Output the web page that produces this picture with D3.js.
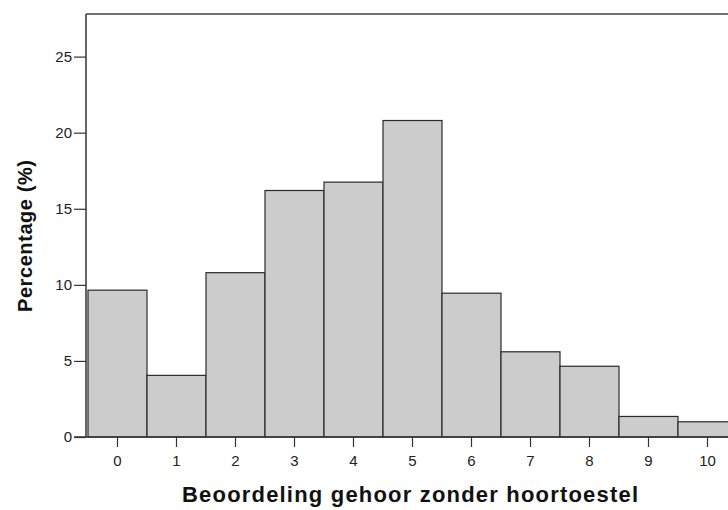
<!DOCTYPE html>
<html>
<head>
<meta charset="utf-8">
<script src="https://cdn.jsdelivr.net/npm/d3@7"></script>
<style>
  body { margin: 0; background: #fff; }
  svg { display: block; }
  .tick text { font-family: Arial, "Liberation Sans", sans-serif; font-size: 15px; fill: #222; }
</style>
</head>
<body>
<div id="chart"></div>
<script>
// Beoordeling (score 0-10) en percentage
var scores = ["0", "1", "2", "3", "4", "5", "6", "7", "8", "9", "10"];
var percentages = [9.65, 4.05, 10.8, 16.2, 16.75, 20.8, 9.45, 5.6, 4.65, 1.35, 1.0];
var yTicks = [0, 5, 10, 15, 20, 25];

var width = 728;
var height = 510;
var plot = {left: 86, top: 14, bottom: 437, barStart: 88, barWidth: 59};

var svg = d3.select("#chart")
    .append("svg")
    .attr("width", width)
    .attr("height", height);

// schalen
var xScale = d3.scaleBand()
    .domain(scores)
    .range([plot.barStart, plot.barStart + plot.barWidth * scores.length])
    .padding(0);
var yScale = d3.scaleLinear()
    .domain([0, 27.8])
    .range([plot.bottom, plot.top]);

// kader (boven)
svg.append("line")
    .attr("x1", plot.left).attr("x2", width + 5)
    .attr("y1", plot.top).attr("y2", plot.top)
    .attr("stroke", "#444").attr("stroke-width", 1.5);

// staven
svg.append("g")
    .selectAll("rect")
    .data(percentages)
    .enter().append("rect")
    .attr("x", function (d, i) { return xScale(scores[i]); })
    .attr("y", function (d) { return yScale(d); })
    .attr("width", xScale.bandwidth())
    .attr("height", function (d) { return plot.bottom - yScale(d); })
    .attr("fill", "#cccccc")
    .attr("stroke", "#2a2a2a")
    .attr("stroke-width", 1.2);

// y-as
var gyAxis = svg.append("g")
    .attr("transform", "translate(" + plot.left + ",0)")
    .call(d3.axisLeft(yScale).tickValues(yTicks).tickSize(12).tickPadding(2).tickFormat(d3.format("d")));
gyAxis.select(".domain").attr("stroke", "#333").attr("stroke-width", 1.5)
    .attr("d", "M0," + plot.top + "V" + plot.bottom);
gyAxis.selectAll(".tick line").attr("stroke", "#333").attr("stroke-width", 1.2);

// x-as
var gxAxis = svg.append("g")
    .attr("transform", "translate(0," + plot.bottom + ")")
    .call(d3.axisBottom(xScale).tickSize(10).tickPadding(8));
gxAxis.select(".domain").attr("stroke", "#333").attr("stroke-width", 1.5)
    .attr("d", "M" + (plot.left - 12) + ",0H" + (width + 5));
gxAxis.selectAll(".tick line").attr("stroke", "#333").attr("stroke-width", 1.2);

// astitels
svg.append("text")
    .attr("x", 410)
    .attr("y", 502)
    .attr("text-anchor", "middle")
    .attr("textLength", 456)
    .attr("lengthAdjust", "spacing")
    .style("font-family", "Arial, 'Liberation Sans', sans-serif")
    .style("font-weight", "bold")
    .style("font-size", "22px")
    .attr("fill", "#111")
    .text("Beoordeling gehoor zonder hoortoestel");

svg.append("text")
    .attr("transform", "translate(32,236) rotate(-90)")
    .attr("text-anchor", "middle")
    .attr("textLength", 152)
    .attr("lengthAdjust", "spacing")
    .style("font-family", "Arial, 'Liberation Sans', sans-serif")
    .style("font-weight", "bold")
    .style("font-size", "20px")
    .attr("fill", "#111")
    .text("Percentage (%)");
</script>
</body>
</html>
